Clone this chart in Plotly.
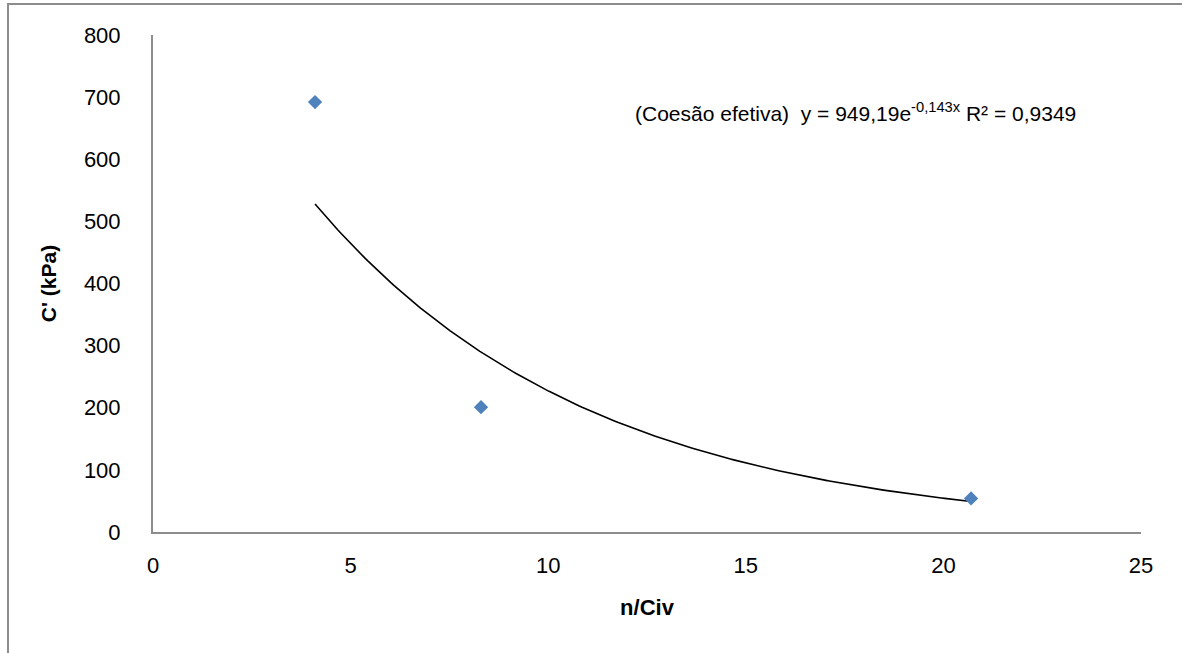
import numpy as np
import plotly.graph_objects as go

# Measured cohesion versus n/Civ
n_civ = [4.1, 8.3, 20.7]
cohesion_kpa = [692, 201, 54]

# Exponential trendline coefficients (y = a * e^(b x))
trend_a = 949.19
trend_b = -0.143
trend_label = "(Coesão efetiva)  y = 949,19e<sup>-0,143x</sup> R² = 0,9349"

x_ticks = [0, 5, 10, 15, 20, 25]
y_ticks = [0, 100, 200, 300, 400, 500, 600, 700, 800]

W, H = 1182, 653
L, R, T, B = 153, 41, 35, 121
pw, ph = W - L - R, H - T - B

trend_x = np.linspace(min(n_civ), max(n_civ), 200)
trend_y = trend_a * np.exp(trend_b * trend_x)

FONT = "Liberation Sans"

fig = go.Figure()
fig.add_trace(go.Scatter(
    x=trend_x, y=trend_y, mode="lines",
    line=dict(color="black", width=1.6), hoverinfo="skip", showlegend=False,
))
fig.add_trace(go.Scatter(
    x=n_civ, y=cohesion_kpa, mode="markers",
    marker=dict(symbol="diamond", size=11, color="#4F81BD",
                line=dict(width=0)),
    showlegend=False,
))

fig.add_annotation(
    x=12.15, y=676, xref="x", yref="y", text=trend_label, showarrow=False,
    xanchor="left", yanchor="middle",
    font=dict(family=FONT, size=21, color="black"),
)

# Outer chart frame
def px_x(p):
    return (p - L) / pw

def px_y(p):
    return (H - B - p) / ph

fig.add_shape(type="rect", xref="paper", yref="paper",
              x0=px_x(8), x1=px_x(W + 10), y0=px_y(4), y1=px_y(H + 10),
              line=dict(color="#8c8c8c", width=2), fillcolor="rgba(0,0,0,0)")

fig.update_layout(
    width=W, height=H,
    margin=dict(l=L, r=R, t=T, b=B),
    paper_bgcolor="white", plot_bgcolor="white",
    font=dict(family=FONT, size=22, color="black"),
    xaxis=dict(
        range=[0, 25], tickvals=x_ticks, showgrid=False, zeroline=False,
        showline=True, linecolor="#8c8c8c", linewidth=2, ticks="",
        ticklabelstandoff=13, tickfont=dict(size=22),
        title=dict(text="<b>n/Civ</b>", font=dict(size=22), standoff=22),
    ),
    yaxis=dict(
        range=[0, 800], tickvals=y_ticks, showgrid=False, zeroline=False,
        showline=True, linecolor="#8c8c8c", linewidth=2, ticks="",
        ticklabelstandoff=26, tickfont=dict(size=22),
        title=dict(text="<b>C' (kPa)</b>", font=dict(size=21), standoff=22),
    ),
)

fig.write_html("out.html")
